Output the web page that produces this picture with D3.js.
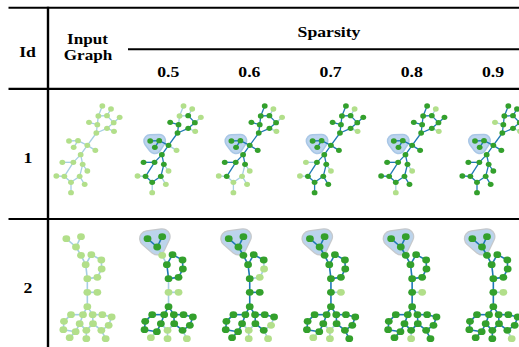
<!DOCTYPE html>
<html>
<head>
<meta charset="utf-8">
<script src="https://cdn.jsdelivr.net/npm/d3@7"></script>
<style>
  body { margin: 0; background: #fff; }
</style>
</head>
<body>
<div id="chart"></div>
<script>
// table content
const sparsity = ["0.5", "0.6", "0.7", "0.8", "0.9"];
const columnKeys = ["input", ...sparsity];
const rowIds = ["1", "2"];

// graph 1 layout (layout units) and structure
const g1Nodes = [
  [175, 48], [201, 57], [163, 78], [189, 77], [227, 82], [135, 97], [160, 104],
  [209, 98], [189, 115], [210, 124], [157, 129], [75, 153], [102, 152], [89, 172],
  [130, 166], [154, 181], [110, 194], [55, 217], [88, 217], [116, 223], [130, 243],
  [37, 258], [61, 259], [107, 259], [81, 277], [122, 283], [81, 308]
];
const g1Edges = [
  [0, 2], [1, 3], [2, 3], [3, 7], [4, 7], [5, 6], [2, 6], [7, 8], [8, 9], [6, 10],
  [8, 10], [10, 14], [14, 15], [12, 14], [11, 12], [12, 13], [14, 16], [16, 18],
  [16, 19], [17, 18], [18, 22], [19, 23], [19, 20], [22, 24], [24, 23], [21, 22],
  [24, 26], [23, 25]
];
const g1Hull = [11, 12, 13];
const g1Unselected = {
  "0.5": [0, 1, 2, 4, 9, 15, 20, 21, 25, 26],
  "0.6": [1, 4, 9, 20, 21, 23, 24, 25, 26],
  "0.7": [1, 9, 17, 20, 21],
  "0.8": [1, 9, 20, 26],
  "0.9": [5, 9]
};

// graph 2 layout (layout units) and structure
const g2Nodes = [
  [67, 56], [111, 50], [96, 81], [111, 106], [142, 104], [172, 120], [125, 134],
  [173, 147], [130, 176], [160, 172], [130, 217], [160, 217], [130, 260], [81, 284],
  [117, 284], [146, 284], [175, 284], [203, 291], [60, 304], [107, 311], [147, 311],
  [194, 316], [58, 329], [95, 335], [127, 331], [172, 331], [77, 353], [127, 356],
  [185, 356]
];
const g2Edges = [
  [0, 2], [1, 2], [2, 3], [3, 6], [4, 6], [4, 5], [5, 7], [7, 9], [9, 8], [8, 6],
  [8, 10], [10, 11], [10, 12], [12, 14], [12, 15], [13, 14], [15, 16], [16, 17],
  [17, 21], [21, 25], [25, 20], [20, 15], [14, 19], [19, 23], [23, 22], [22, 18],
  [18, 13], [19, 24], [24, 20], [24, 27], [23, 26], [25, 28]
];
const g2Hull = [0, 1, 2];
const g2Unselected = {
  "0.5": [3, 10, 11, 24, 26, 27, 28],
  "0.6": [7, 9, 21, 24, 27, 28],
  "0.7": [11, 24, 26, 27],
  "0.8": [11, 27],
  "0.9": [11, 28]
};

const width = 519, height = 347;
const svg = d3.select("#chart").append("svg")
  .attr("width", width).attr("height", height);

const colX = d3.scalePoint().domain(columnKeys).range([44, 450]);
const rowY = d3.scaleOrdinal().domain(rowIds).range([90, 220]);
const lx = d3.scaleLinear().domain([0, 300]).range([0, 100]);
const ly = d3.scaleLinear().domain([0, 300]).range([0, 100]);

const green = "#33a02c", lightGreen = "#b2df8a";
const blue = "#1f78b4", lightBlue = "#a6cee3";

const graphs = [
  { id: "1", nodes: g1Nodes, edges: g1Edges, hull: g1Hull, off: g1Unselected, rx: 2.9, ry: 2.7, ew: 1.3,
    hullOuter: "#a9c7e6", hullInner: "#bcd4ee", ow: 14, iw: 11 },
  { id: "2", nodes: g2Nodes, edges: g2Edges, hull: g2Hull, off: g2Unselected, rx: 3.9, ry: 3.4, ew: 1.6,
    hullOuter: "#c6c9cc", hullInner: "#bcd4ec", ow: 17, iw: 14.5 }
];

graphs.forEach(gr => {
  columnKeys.forEach(c => {
    const g = svg.append("g")
      .attr("transform", `translate(${colX(c)},${rowY(gr.id)})`);
    const off = c === "input" ? null : new Set(gr.off[c]);
    const on = i => off !== null && !off.has(i);

    if (c !== "input") {
      const pts = d3.polygonHull(gr.hull.map(i => [lx(gr.nodes[i][0]), ly(gr.nodes[i][1])]));
      const line = d3.line().curve(d3.curveLinearClosed);
      g.append("path").attr("d", line(pts))
        .attr("fill", gr.hullOuter).attr("stroke", gr.hullOuter)
        .attr("stroke-width", gr.ow).attr("stroke-linejoin", "round");
      g.append("path").attr("d", line(pts))
        .attr("fill", gr.hullInner).attr("stroke", gr.hullInner)
        .attr("stroke-width", gr.iw).attr("stroke-linejoin", "round");
    }

    g.selectAll("line").data(gr.edges).join("line")
      .attr("x1", d => lx(gr.nodes[d[0]][0]))
      .attr("y1", d => ly(gr.nodes[d[0]][1]))
      .attr("x2", d => lx(gr.nodes[d[1]][0]))
      .attr("y2", d => ly(gr.nodes[d[1]][1]))
      .attr("stroke", d => on(d[0]) && on(d[1]) ? blue : lightBlue)
      .attr("stroke-width", gr.ew);

    g.selectAll("ellipse").data(gr.nodes).join("ellipse")
      .attr("cx", d => lx(d[0]))
      .attr("cy", d => ly(d[1]))
      .attr("rx", gr.rx).attr("ry", gr.ry)
      .attr("fill", (d, i) => on(i) ? green : lightGreen);
  });
});

// table rules
const rules = [
  { x1: 8.5, x2: width, y: 7.7, w: 2 },
  { x1: 128, x2: width, y: 49.3, w: 2 },
  { x1: 8.5, x2: width, y: 88.8, w: 2.3 },
  { x1: 8.5, x2: width, y: 219, w: 2.2 }
];
svg.selectAll(".rule").data(rules).join("line").attr("class", "rule")
  .attr("x1", d => d.x1).attr("x2", d => d.x2)
  .attr("y1", d => d.y).attr("y2", d => d.y)
  .attr("stroke", "#000").attr("stroke-width", d => d.w);
svg.append("line").attr("x1", 48).attr("x2", 48).attr("y1", 6.7).attr("y2", height)
  .attr("stroke", "#000").attr("stroke-width", 2.4);

// header and row texts
const sx = 1.18;
function label(txt, x, y, size) {
  svg.append("text")
    .attr("transform", `translate(${x},${y}) scale(${sx},1)`)
    .attr("text-anchor", "middle")
    .attr("font-family", "'Liberation Serif', 'Times New Roman', Times, serif")
    .attr("font-weight", "bold")
    .attr("font-size", size)
    .attr("fill", "#000")
    .text(txt);
}
label("Id", 27.5, 56.5, 15);
label("Input", 87.5, 44, 14.5);
label("Graph", 88, 59.5, 14.5);
label("Sparsity", 329, 36.5, 15);
sparsity.forEach(s => label(s, colX(s) + 43, 77, 15));
rowIds.forEach(r => label(r, 28, r === "1" ? 163 : 293, 15));
</script>
</body>
</html>
